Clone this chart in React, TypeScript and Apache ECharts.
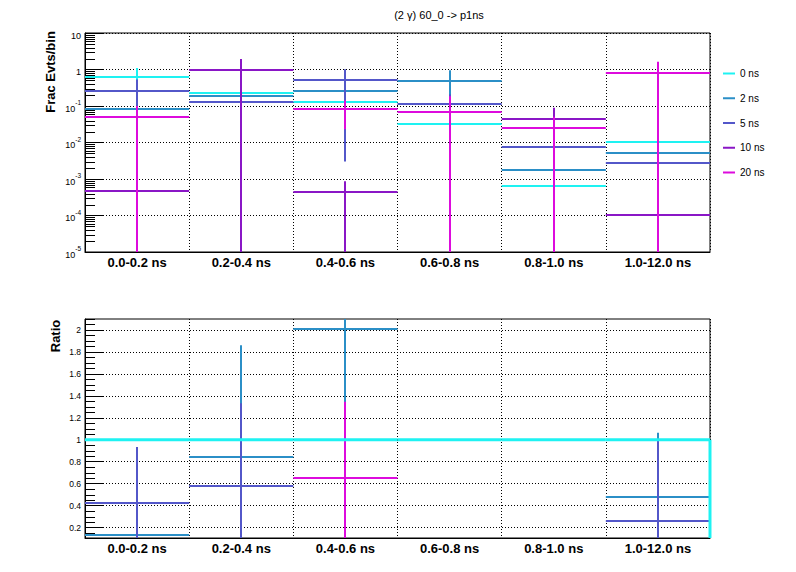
import React, { useEffect, useRef } from 'react';
import * as echarts from 'echarts';

const categories = ['0.0-0.2 ns', '0.2-0.4 ns', '0.4-0.6 ns', '0.6-0.8 ns', '0.8-1.0 ns', '1.0-12.0 ns'];
const seriesNames = ['0 ns', '2 ns', '5 ns', '10 ns', '20 ns'];
const seriesColors = ['#1EF2F2', '#2B8FC7', '#5357C9', '#8A16C6', '#DD0BDD'];

// Top panel: fraction of events per bin, with errors
const frac0ns = [0.63, 0.23, 0.13, 0.032, 0.00065, 0.0102];
const frac0nsErr = [0.47, 0.2, 0.1, 0.03, 0.0006, 0.009];
const frac2ns = [0.082, 0.186, 0.26, 0.48, 0.0018, 0.0052];
const frac2nsErr = [0.08, 0.17, 0.2, 0.48, 0.0018, 0.005];
const frac5ns = [0.26, 0.13, 0.51, 0.11, 0.0076, 0.0028];
const frac5nsErr = [0.27, 0.1, 0.507, 0.1, 0.007, 0.0028];
const frac10ns = [0.00047, 0.96, 0.00044, null, 0.044, 0.000105];
const frac10nsErr = [0.00047, 0.97, 0.00043, null, 0.045, 0.0001];
const frac20ns = [0.05, null, 0.082, 0.069, 0.025, 0.81];
const frac20nsErr = [0.05, null, 0.059, 0.117, 0.026, 0.82];

// Bottom panel: ratio to 0 ns
const ratioRef = [1, 1, 1, 1, 1, 1];
const ratio2ns = [0.136, 0.84, 2.01, null, null, 0.48];
const ratio2nsErr = [0.14, 1.02, 0.75, null, null, 0.584];
const ratio5ns = [0.428, 0.583, null, null, null, 0.264];
const ratio5nsErr = [0.505, 0.75, null, null, null, 0.73];
const ratio20ns = [null, null, 0.656, null, null, null];
const ratio20nsErr = [null, null, 0.69, null, null, null];

const logMin = 1e-5;
const logMax = 10;
const ratioMin = 0.105;
const ratioMax = 2.1;
const ratioTicks = [0.2, 0.4, 0.6, 0.8, 1, 1.2, 1.4, 1.6, 1.8, 2];

const FONT = '"Liberation Sans", Arial, Helvetica, sans-serif';

const fracSeries = [
  { v: frac0ns, e: frac0nsErr },
  { v: frac2ns, e: frac2nsErr },
  { v: frac5ns, e: frac5nsErr },
  { v: frac10ns, e: frac10nsErr },
  { v: frac20ns, e: frac20nsErr },
];
const ratioSeries = [
  { idx: 1, v: ratio2ns, e: ratio2nsErr },
  { idx: 2, v: ratio5ns, e: ratio5nsErr },
  { idx: 4, v: ratio20ns, e: ratio20nsErr },
];

function toItems(v: (number | null)[], e: (number | null)[]) {
  const out: number[][] = [];
  v.forEach((val, i) => {
    if (val !== null) out.push([i, val, e[i] ?? 0]);
  });
  return out;
}

function errRender(color: string, axisMin: number, axisMax: number) {
  return (params: any, api: any) => {
    const cs = params.coordSys;
    const top = cs.y;
    const bottom = cs.y + cs.height;
    const i = api.value(0);
    const v = api.value(1);
    const e = api.value(2);
    const clampY = (val: number) => {
      if (val <= axisMin) return bottom;
      if (val >= axisMax) return top;
      return api.coord([i, val])[1];
    };
    const c = api.coord([i, v]);
    const w = api.size([1, 0])[0];
    const cx = Math.round(c[0]);
    const cy = Math.round(c[1]);
    const style = { stroke: color, lineWidth: 2 };
    const children: any[] = [];
    if (v >= axisMin && v <= axisMax) {
      children.push({
        type: 'line',
        shape: { x1: c[0] - w / 2, y1: cy, x2: c[0] + w / 2, y2: cy },
        style,
      });
    }
    const y1 = clampY(v + e);
    const y2 = clampY(v - e);
    if (y2 - y1 > 0.1) {
      children.push({ type: 'line', shape: { x1: cx, y1, x2: cx, y2 }, style });
    }
    return { type: 'group', children };
  };
}

function minorTickRender(values: number[]) {
  return (params: any, api: any) => {
    const cs = params.coordSys;
    const children = values.map((val) => {
      const y = Math.round(api.coord([0, val])[1]) + 0.5;
      return {
        type: 'line',
        shape: { x1: cs.x, y1: y, x2: cs.x + 10, y2: y },
        style: { stroke: '#000', lineWidth: 1 },
      };
    });
    return { type: 'group', children };
  };
}

function refRender(color: string) {
  return (params: any, api: any) => {
    const cs = params.coordSys;
    const i = api.value(0);
    const v = api.value(1);
    const c = api.coord([i, v]);
    const w = api.size([1, 0])[0];
    const style = { stroke: color, lineWidth: 3 };
    const children: any[] = [
      { type: 'line', shape: { x1: c[0] - w / 2, y1: c[1], x2: c[0] + w / 2, y2: c[1] }, style },
    ];
    if (i === categories.length - 1) {
      children.push({
        type: 'line',
        shape: { x1: c[0] + w / 2, y1: c[1], x2: c[0] + w / 2, y2: cs.y + cs.height },
        style,
      });
    }
    return { type: 'group', children };
  };
}

export default function App() {
  const ref = useRef<HTMLDivElement>(null);
  useEffect(() => {
    if (!ref.current) return;
    const chart = echarts.init(ref.current, undefined, { renderer: 'svg' });

    const logMinor: number[] = [];
    for (let k = -5; k <= 0; k++) {
      for (let d = 2; d <= 9; d++) logMinor.push(d * Math.pow(10, k));
    }
    const ratioMinor: number[] = [];
    for (let m = 1; m <= 42; m++) {
      const val = m * 0.05;
      if (val >= ratioMin && val <= ratioMax && m % 4 !== 0) ratioMinor.push(val);
    }

    const dotted = { color: '#000', type: [1, 2] as any, width: 1 };
    const xAxisCommon = {
      type: 'category' as const,
      data: categories,
      boundaryGap: true,
      axisLine: { lineStyle: { color: '#000', width: 1 } },
      axisTick: { inside: true, length: 4, lineStyle: { color: '#000' } },
      axisLabel: {
        color: '#000',
        fontFamily: FONT,
        fontWeight: 'bold' as const,
        fontSize: 13,
        margin: 4,
      },
      splitLine: { show: true, lineStyle: dotted },
    };

    const supRich = {
      b: { fontSize: 9, fontFamily: FONT, color: '#000', lineHeight: 14, verticalAlign: 'bottom' },
      s: { fontSize: 6.5, fontFamily: FONT, color: '#000', lineHeight: 14, verticalAlign: 'top' },
    };

    const series: any[] = [];
    series.push({
      type: 'custom',
      name: 'minorTop',
      xAxisIndex: 0,
      yAxisIndex: 0,
      data: [[0, 1]],
      renderItem: minorTickRender(logMinor),
      silent: true,
    });
    series.push({
      type: 'custom',
      name: 'minorBottom',
      xAxisIndex: 1,
      yAxisIndex: 1,
      data: [[0, 1]],
      renderItem: minorTickRender(ratioMinor),
      silent: true,
    });
    fracSeries.forEach((s, k) => {
      series.push({
        type: 'custom',
        name: seriesNames[k],
        xAxisIndex: 0,
        yAxisIndex: 0,
        itemStyle: { color: seriesColors[k] },
        encode: { x: 0, y: 1 },
        data: toItems(s.v, s.e),
        renderItem: errRender(seriesColors[k], logMin, logMax),
      });
    });
    ratioSeries.forEach((s) => {
      series.push({
        type: 'custom',
        name: seriesNames[s.idx],
        xAxisIndex: 1,
        yAxisIndex: 1,
        itemStyle: { color: seriesColors[s.idx] },
        encode: { x: 0, y: 1 },
        data: toItems(s.v, s.e),
        renderItem: errRender(seriesColors[s.idx], ratioMin, ratioMax),
      });
    });
    series.push({
      type: 'custom',
      name: seriesNames[0],
      xAxisIndex: 1,
      yAxisIndex: 1,
      itemStyle: { color: seriesColors[0] },
      encode: { x: 0, y: 1 },
      data: ratioRef.map((v, i) => [i, v]),
      renderItem: refRender(seriesColors[0]),
    });

    chart.setOption({
      animation: false,
      backgroundColor: '#fff',
      textStyle: { fontFamily: FONT },
      grid: [
        { left: 85, top: 33, width: 625, height: 219, show: true, borderColor: '#000', borderWidth: 1, backgroundColor: 'transparent' },
        { left: 85, top: 319, width: 625, height: 219, show: true, borderColor: '#000', borderWidth: 1, backgroundColor: 'transparent' },
      ],
      xAxis: [
        { ...xAxisCommon, gridIndex: 0 },
        { ...xAxisCommon, gridIndex: 1 },
      ],
      yAxis: [
        {
          type: 'log',
          gridIndex: 0,
          logBase: 10,
          min: logMin,
          max: logMax,
          axisLine: { show: true, lineStyle: { color: '#000', width: 1 } },
          axisTick: { show: true, inside: true, length: 19, lineStyle: { color: '#000' } },
          axisLabel: {
            margin: 4,
            color: '#000',
            rich: supRich,
            formatter: (val: number) => {
              const p = Math.round(Math.log10(val));
              if (p === 0) return '{b|1}';
              if (p === 1) return '{b|10}';
              return '{b|10}{s|' + p + '}';
            },
          },
          splitLine: { show: true, lineStyle: dotted },
        },
        {
          type: 'value',
          gridIndex: 1,
          min: ratioMin,
          max: ratioMax,
          axisLine: { show: true, lineStyle: { color: '#000', width: 1 } },
          axisTick: { show: true, inside: true, length: 19, lineStyle: { color: '#000' }, customValues: ratioTicks },
          axisLabel: {
            margin: 4,
            color: '#000',
            fontSize: 8.5,
            fontFamily: FONT,
            customValues: ratioTicks,
            formatter: (val: number) => String(Math.round(val * 10) / 10),
          },
          splitLine: { show: true, lineStyle: dotted },
        },
      ],
      legend: {
        orient: 'vertical',
        left: 718,
        top: 62.5,
        itemWidth: 12,
        itemHeight: 2,
        itemGap: 12.75,
        icon: 'rect',
        selectedMode: false,
        data: seriesNames,
        textStyle: { fontSize: 10, lineHeight: 12, fontFamily: FONT, color: '#000' },
      },
      graphic: [
        {
          type: 'text',
          x: 439,
          y: 15,
          style: { text: '(2 \u03B3) 60_0 -> p1ns', font: '11px ' + FONT, fill: '#000', align: 'center', verticalAlign: 'middle' },
        },
        {
          type: 'text',
          x: 50,
          y: 72,
          rotation: Math.PI / 2,
          style: { text: 'Frac Evts/bin', font: 'bold 13px ' + FONT, fill: '#000', align: 'center', verticalAlign: 'middle' },
        },
        {
          type: 'text',
          x: 55,
          y: 336,
          rotation: Math.PI / 2,
          style: { text: 'Ratio', font: 'bold 13px ' + FONT, fill: '#000', align: 'center', verticalAlign: 'middle' },
        },
      ],
      series,
    });
    return () => chart.dispose();
  }, []);
  return <div ref={ref} style={{ position: 'absolute', left: 0, top: 0, width: 796, height: 572 }} />;
}
